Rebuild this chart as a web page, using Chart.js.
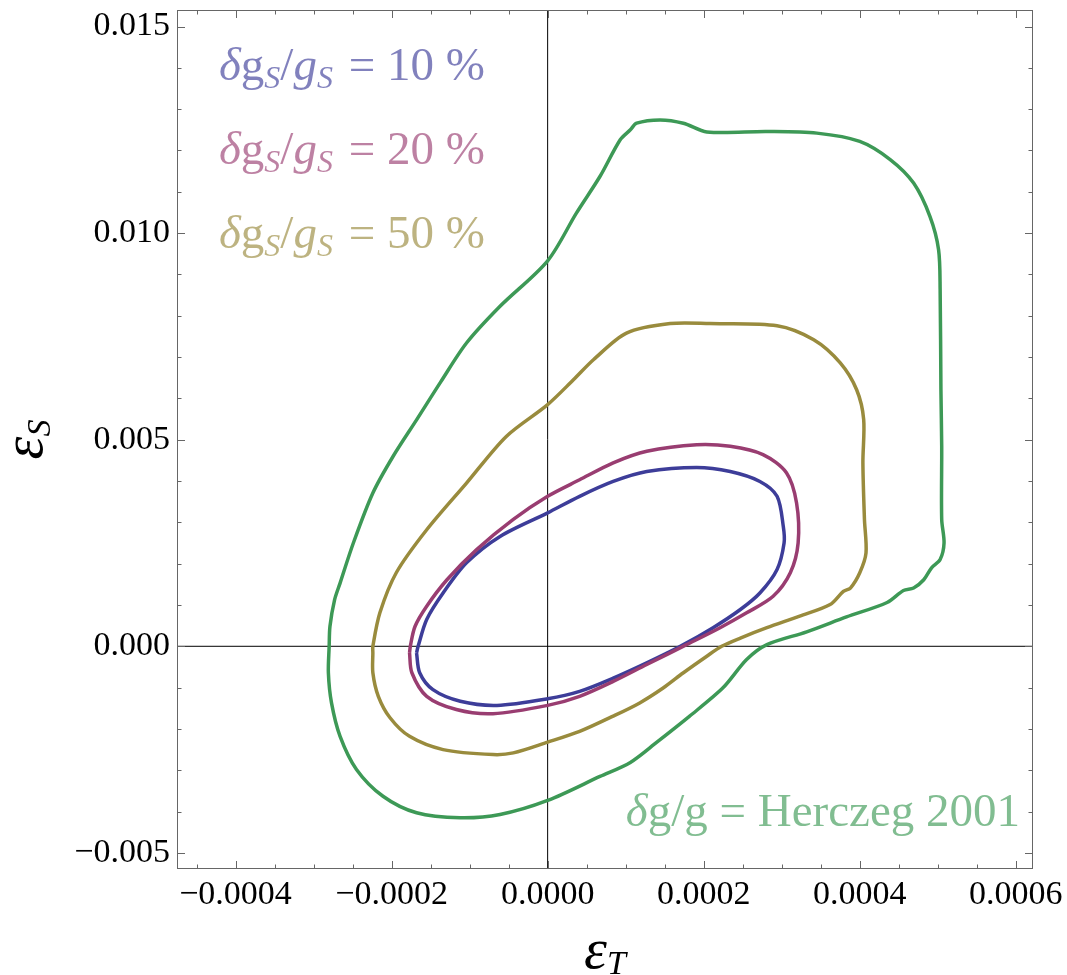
<!DOCTYPE html>
<html>
<head>
<meta charset="utf-8">
<script src="https://cdn.jsdelivr.net/npm/chart.js@4"></script>
<style>
html, body { margin: 0; padding: 0; background: #fff; }
</style>
</head>
<body>
<canvas id="myChart" width="1067" height="975"></canvas>
<script>
// axis ranges
var xMin = -0.000475, xMax = 0.000622;
var yMin = -0.00539, yMax = 0.0154;

// contour labels
var contourLabels = ['10 %', '20 %', '50 %'];
var herczegLabel = 'Herczeg 2001';

// contour dg_S/g_S = 10 %
var tenPctX = [-0.000168, -0.000166, -0.000155, -0.000134, -0.000104, -0.000061, 0.0, 0.000041, 0.000084, 0.000127, 0.000191, 0.000234, 0.000272, 0.000294, 0.000302, 0.000303, 0.000294, 0.000272, 0.000247, 0.000212, 0.000170, 0.000127, 0.000084, 0.000041, 0.0, -0.000065, -0.000112, -0.000147, -0.000164];
var tenPctY = [-0.00016, 0.0, 0.00065, 0.00129, 0.00202, 0.00266, 0.00323, 0.00363, 0.00399, 0.00423, 0.00433, 0.00423, 0.00399, 0.00363, 0.00290, 0.00250, 0.00186, 0.00129, 0.00089, 0.00045, 0.0, -0.00040, -0.00077, -0.00109, -0.00127, -0.00143, -0.00133, -0.00105, -0.00064];

// contour dg_S/g_S = 20 %
var twentyPctX = [-0.000177, -0.000176, -0.000170, -0.000155, -0.000129, -0.000091, -0.000044, 0.0, 0.000041, 0.000084, 0.000127, 0.000191, 0.000234, 0.000276, 0.000306, 0.000319, 0.000321, 0.000311, 0.000289, 0.000255, 0.000221, 0.000178, 0.000127, 0.000084, 0.000041, 0.0, -0.000070, -0.000117, -0.000155, -0.000174];
var twentyPctY = [-0.00016, 0.0, 0.00048, 0.00097, 0.00161, 0.00234, 0.00307, 0.00363, 0.00403, 0.00444, 0.00472, 0.00488, 0.00484, 0.00464, 0.00420, 0.00347, 0.00250, 0.00178, 0.00121, 0.00081, 0.00045, 0.00004, -0.00044, -0.00085, -0.00121, -0.00143, -0.00163, -0.00153, -0.00121, -0.00064];

// contour dg_S/g_S = 50 %
var fiftyPctX = [-0.000224, -0.000224, -0.000215, -0.000194, -0.000155, -0.000104, -0.000053, 0.0, 0.000033, 0.000059, 0.000101, 0.000157, 0.000208, 0.000294, 0.000341, 0.000375, 0.000396, 0.000405, 0.000404, 0.000406, 0.000408, 0.000400, 0.000388, 0.000379, 0.000362, 0.000323, 0.000281, 0.000247, 0.000223, 0.000204, 0.000174, 0.000148, 0.000118, 0.000084, 0.000041, 0.0, -0.000044, -0.000070, -0.000134, -0.000177, -0.000202, -0.000217, -0.000224];
var fiftyPctY = [-0.00016, 0.0, 0.00081, 0.00178, 0.00282, 0.00395, 0.00508, 0.00585, 0.00645, 0.00694, 0.00758, 0.00781, 0.00781, 0.00776, 0.00742, 0.00686, 0.00621, 0.00549, 0.00444, 0.00307, 0.00226, 0.00178, 0.00141, 0.00133, 0.00101, 0.00073, 0.00045, 0.00020, 0.0, -0.00024, -0.00064, -0.00101, -0.00137, -0.00169, -0.00206, -0.00232, -0.00258, -0.00262, -0.00250, -0.00218, -0.00173, -0.00121, -0.00064];

// contour dg/g = Herczeg 2001
var herczegX = [-0.000280, -0.000279, -0.000273, -0.000266, -0.000249, -0.000224, -0.000198, -0.000168, -0.000137, -0.000104, -0.000061, 0.0, 0.000037, 0.000067, 0.000093, 0.000106, 0.000114, 0.000144, 0.000174, 0.000204, 0.000281, 0.000345, 0.000400, 0.000439, 0.000469, 0.000490, 0.000501, 0.000503, 0.000504, 0.000505, 0.000505, 0.000508, 0.000503, 0.000492, 0.000482, 0.000469, 0.000456, 0.000435, 0.000383, 0.000332, 0.000281, 0.000255, 0.000225, 0.000182, 0.000140, 0.000106, 0.000067, 0.0, -0.000061, -0.000112, -0.000168, -0.000211, -0.000245, -0.000266, -0.000277, -0.000281];
var herczegY = [0.0, 0.00048, 0.00113, 0.00153, 0.00250, 0.00371, 0.00460, 0.00548, 0.00640, 0.00734, 0.00823, 0.00933, 0.01049, 0.01137, 0.01226, 0.01250, 0.01266, 0.01274, 0.01266, 0.01245, 0.01246, 0.01242, 0.01222, 0.01178, 0.01121, 0.01040, 0.00960, 0.00863, 0.00621, 0.00484, 0.00307, 0.00250, 0.00210, 0.00190, 0.00161, 0.00141, 0.00135, 0.00106, 0.00071, 0.00035, 0.00004, -0.00032, -0.00100, -0.00169, -0.00232, -0.00281, -0.00315, -0.00373, -0.00407, -0.00415, -0.00403, -0.00363, -0.00298, -0.00218, -0.00137, -0.00064];

var blue = 'rgb(61,61,153)';
var purple = 'rgb(153,61,113)';
var olive = 'rgb(153,139,61)';
var green = 'rgb(61,153,86)';
var serif = '"Liberation Serif", "Times New Roman", serif';

// zip x/y into a closed loop
var toLoop = function (xs, ys) {
    var pts = xs.map(function (x, i) { return { x: x, y: ys[i] }; });
    pts.push({ x: xs[0], y: ys[0] });
    return pts;
};

var lineSet = function (xs, ys, color) {
    return {
        data: toLoop(xs, ys),
        showLine: true,
        borderColor: color,
        borderWidth: 3.5,
        pointRadius: 0,
        tension: 0.3,
        fill: false
    };
};

var fmt = function (v, digits) {
    if (Math.abs(v) < 1e-12) v = 0;
    return v.toFixed(digits).replace('-', '\u2212');
};

// draw a run of text pieces (italic / subscript) one after another
var drawRich = function (ctx, x, y, runs, color, align) {
    var total = 0;
    runs.forEach(function (r) {
        ctx.font = (r.it ? 'italic ' : '') + r.size + 'px ' + serif;
        r.w = ctx.measureText(r.t).width + (r.gap || 0);
        total += r.w;
    });
    var cx = x;
    if (align === 'right') cx = x - total;
    if (align === 'center') cx = x - total / 2;
    ctx.fillStyle = color;
    ctx.textAlign = 'left';
    ctx.textBaseline = 'alphabetic';
    runs.forEach(function (r) {
        ctx.font = (r.it ? 'italic ' : '') + r.size + 'px ' + serif;
        ctx.fillText(r.t, cx, y + (r.dy || 0));
        cx += r.w;
    });
};

var ratioRuns = function (value) {
    var s = 47, sub = 32;
    return [
        { t: '\u03b4', it: true, size: s },
        { t: 'g', size: s },
        { t: 'S', it: true, size: sub, dy: 8 },
        { t: '/', size: s },
        { t: 'g', it: true, size: s },
        { t: 'S', it: true, size: sub, dy: 8, gap: 4 },
        { t: ' = ' + value, size: s }
    ];
};

var framePlugin = {
    id: 'frame',
    beforeDatasetsDraw: function (chart) {
        var ctx = chart.ctx, a = chart.chartArea;
        var xs = chart.scales.x, ys = chart.scales.y;
        ctx.save();
        ctx.strokeStyle = '#000';
        ctx.lineWidth = 1;
        var x0 = xs.getPixelForValue(0), y0 = ys.getPixelForValue(0);
        ctx.beginPath();
        ctx.moveTo(x0, a.top); ctx.lineTo(x0, a.bottom);
        ctx.moveTo(a.left, y0); ctx.lineTo(a.right, y0);
        ctx.stroke();
        ctx.restore();
    },
    afterDraw: function (chart) {
        var ctx = chart.ctx, a = chart.chartArea;
        var xs = chart.scales.x, ys = chart.scales.y;
        ctx.save();
        // frame
        ctx.strokeStyle = '#666';
        ctx.lineWidth = 1;
        ctx.strokeRect(a.left + 0.5, a.top + 0.5, a.right - a.left - 1, a.bottom - a.top - 1);
        // inward ticks on all sides
        ctx.beginPath();
        var k, v, p, len;
        for (k = Math.ceil(xMin / 0.00005); k <= Math.floor(xMax / 0.00005); k++) {
            v = k * 0.00005;
            p = Math.round(xs.getPixelForValue(v)) + 0.5;
            len = (k % 4 === 0) ? 8 : 4.5;
            ctx.moveTo(p, a.bottom); ctx.lineTo(p, a.bottom - len);
            ctx.moveTo(p, a.top); ctx.lineTo(p, a.top + len);
        }
        for (k = Math.ceil(yMin / 0.001); k <= Math.floor(yMax / 0.001); k++) {
            v = k * 0.001;
            p = Math.round(ys.getPixelForValue(v)) + 0.5;
            len = (k % 5 === 0) ? 8 : 4.5;
            ctx.moveTo(a.left, p); ctx.lineTo(a.left + len, p);
            ctx.moveTo(a.right, p); ctx.lineTo(a.right - len, p);
        }
        ctx.stroke();

        // labels of the contours
        var textColors = ['rgba(61,61,153,0.65)', 'rgba(153,61,113,0.65)', 'rgba(153,139,61,0.65)'];
        contourLabels.forEach(function (lab, i) {
            drawRich(ctx, a.left + 42, a.top + 70 + i * 84, ratioRuns(lab), textColors[i], 'left');
        });
        drawRich(ctx, a.right - 13, a.bottom - 43, [
            { t: '\u03b4', it: true, size: 47 },
            { t: 'g/g = ' + herczegLabel, size: 47 }
        ], 'rgba(61,153,86,0.65)', 'right');

        // axis titles
        var midX = (a.left + a.right) / 2;
        drawRich(ctx, midX, 968, [
            { t: '\u03b5', it: true, size: 58 },
            { t: 'T', it: true, size: 34, dy: 6 }
        ], '#000', 'center');
        ctx.translate(42, (a.top + a.bottom) / 2);
        ctx.rotate(-Math.PI / 2);
        drawRich(ctx, 0, 0, [
            { t: '\u03b5', it: true, size: 58 },
            { t: 'S', it: true, size: 34, dy: 8 }
        ], '#000', 'center');
        ctx.restore();
    }
};

var ctx = document.getElementById('myChart').getContext('2d');

var chart = new Chart(ctx, {
    type: 'scatter',
    data: {
        datasets: [
            lineSet(herczegX, herczegY, green),
            lineSet(fiftyPctX, fiftyPctY, olive),
            lineSet(twentyPctX, twentyPctY, purple),
            lineSet(tenPctX, tenPctY, blue)
        ]
    },
    options: {
        responsive: false,
        animation: false,
        layout: { padding: { left: 0, right: 34, top: 10, bottom: 0 } },
        plugins: { legend: { display: false }, tooltip: { enabled: false } },
        scales: {
            x: {
                type: 'linear',
                min: xMin,
                max: xMax,
                grid: { display: false, drawTicks: false },
                border: { display: false },
                ticks: {
                    stepSize: 0.0002,
                    includeBounds: false,
                    autoSkip: false,
                    maxRotation: 0,
                    padding: 6,
                    color: '#000',
                    font: { family: serif, size: 34 },
                    callback: function (v) { return fmt(v, 4); }
                },
                afterFit: function (scale) {
                    scale.height = 106;
                    scale.paddingLeft = 0;
                    scale.paddingRight = 0;
                }
            },
            y: {
                type: 'linear',
                min: yMin,
                max: yMax,
                grid: { display: false, drawTicks: false },
                border: { display: false },
                ticks: {
                    stepSize: 0.005,
                    includeBounds: false,
                    autoSkip: false,
                    padding: 7,
                    color: '#000',
                    font: { family: serif, size: 34 },
                    callback: function (v) { return fmt(v, 3); }
                },
                afterFit: function (scale) {
                    scale.width = 177;
                    scale.paddingTop = 0;
                    scale.paddingBottom = 0;
                }
            }
        }
    },
    plugins: [framePlugin]
});
</script>
</body>
</html>
